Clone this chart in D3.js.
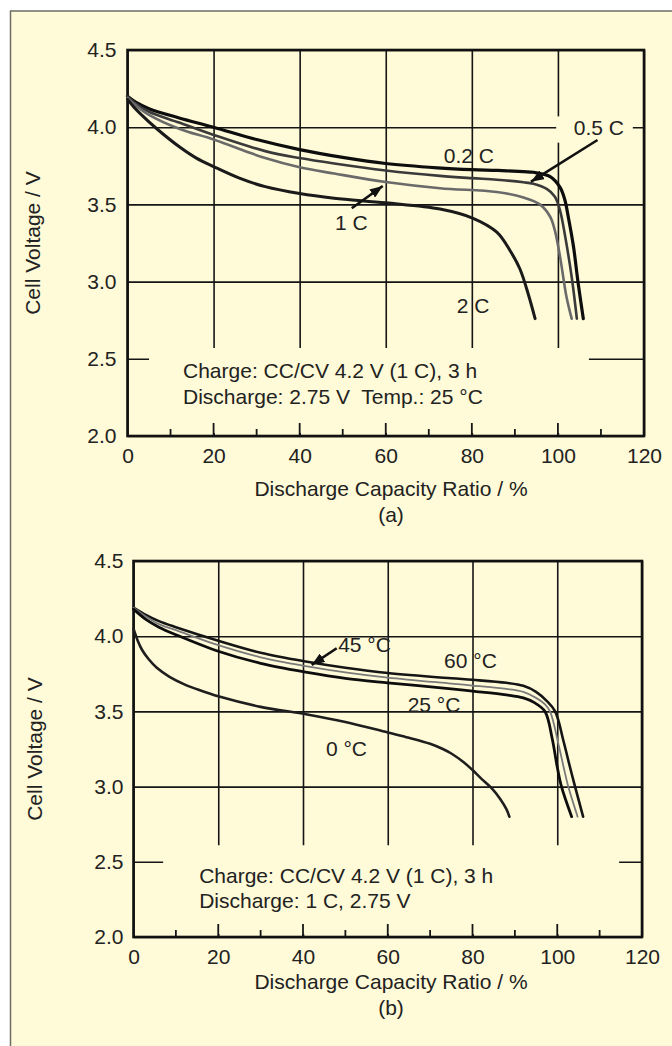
<!DOCTYPE html>
<html>
<head>
<meta charset="utf-8">
<script src="https://cdn.jsdelivr.net/npm/d3@7"></script>
<style>
body { margin: 0; background: #fff; }
text { font-family: "Liberation Sans", Arial, Helvetica, sans-serif; fill: #222; }
</style>
</head>
<body>
<svg id="chart" width="672" height="1046"></svg>
<script>
// axis ticks (shared by both panels)
var xTicks = [0, 20, 40, 60, 80, 100, 120];
var yTicks = [2.0, 2.5, 3.0, 3.5, 4.0, 4.5];
var bottomTicks = [10, 20, 30, 40, 50, 60, 70, 80, 90, 100, 110];

// (a) discharge rate, [capacity %, voltage V]
var rate02C = [[0,4.20],[2,4.16],[5,4.12],[12,4.06],[20,4.00],[30,3.92],[40,3.855],[50,3.805],[60,3.765],[72,3.737],[80,3.725],[86,3.72],[92,3.712],[94.3,3.708],[98.2,3.68],[100.5,3.61],[101.6,3.53],[102.4,3.42],[103.6,3.23],[104.7,2.99],[105.9,2.76]];
var rate05C = [[0,4.20],[2,4.15],[5,4.10],[12,4.03],[20,3.95],[32,3.845],[40,3.80],[48,3.765],[60,3.72],[72.6,3.685],[80,3.67],[85.8,3.66],[92,3.643],[94.3,3.633],[97.4,3.60],[99.3,3.55],[100.5,3.46],[101.7,3.29],[103.2,3.03],[104.4,2.76]];
var rate1C = [[0,4.19],[2,4.14],[5,4.08],[12,3.99],[20,3.92],[32,3.80],[40,3.74],[48,3.70],[60,3.645],[72.6,3.605],[85.8,3.58],[92,3.545],[95.8,3.50],[98.2,3.42],[99.3,3.33],[100.5,3.16],[102,2.90],[103.2,2.76]];
var rate2C = [[0,4.18],[1.5,4.13],[2.9,4.09],[6.8,3.99],[12.2,3.87],[16,3.80],[20,3.745],[26,3.67],[32,3.615],[40,3.57],[48,3.54],[60,3.51],[72.6,3.47],[80.3,3.41],[85.8,3.32],[88.9,3.20],[91.2,3.08],[93.1,2.92],[94.7,2.76]];

// (b) temperature, [capacity %, voltage V]
var temp60 = [[0,4.19],[3,4.14],[6,4.10],[10,4.06],[20,3.97],[30,3.89],[41,3.83],[50,3.79],[60,3.755],[75,3.72],[80,3.71],[88,3.69],[92,3.67],[95,3.63],[97.5,3.57],[99.5,3.50],[101.5,3.30],[103,3.13],[104.2,3.00],[106.1,2.80]];
var temp45 = [[0,4.19],[3,4.13],[6,4.08],[10,4.04],[20,3.94],[30,3.86],[41,3.80],[50,3.76],[60,3.725],[75,3.685],[80,3.672],[88,3.65],[92,3.63],[95,3.59],[97,3.55],[98.3,3.50],[100.3,3.28],[101.5,3.13],[102.6,3.00],[104.8,2.80]];
var temp25 = [[0,4.18],[3,4.11],[6,4.06],[10,4.01],[20,3.90],[30,3.82],[41,3.76],[50,3.72],[60,3.69],[75,3.65],[80,3.635],[88,3.61],[92,3.59],[94.5,3.56],[97.1,3.50],[98.8,3.32],[100,3.13],[101,3.00],[103.4,2.80]];
var temp0 = [[0,4.05],[1,3.97],[2,3.91],[3.5,3.85],[5.5,3.79],[8.5,3.73],[12,3.68],[15.7,3.64],[20,3.60],[30,3.53],[41,3.48],[50,3.43],[60,3.36],[65,3.325],[70,3.285],[73,3.25],[75,3.22],[78,3.16],[80,3.11],[82,3.055],[84.5,2.99],[86.5,2.92],[88,2.85],[88.7,2.80]];

var conditionsA = ["Charge: CC/CV 4.2 V (1 C), 3 h", "Discharge: 2.75 V\u00a0 Temp.: 25 \u00b0C"];
var conditionsB = ["Charge: CC/CV 4.2 V (1 C), 3 h", "Discharge: 1 C, 2.75 V"];

var svg = d3.select("#chart");
var cream = "#fffad7";

svg.append("rect")
	.attr("x", 10.5).attr("y", 11)
	.attr("width", 700).attr("height", 1100)
	.attr("fill", cream)
	.attr("stroke", "#6e6e66")
	.attr("stroke-width", 1.5);

svg.append("defs").append("marker")
	.attr("id", "arrowhead")
	.attr("viewBox", "0 -5 13 10")
	.attr("refX", 13).attr("refY", 0)
	.attr("markerWidth", 13).attr("markerHeight", 10)
	.attr("markerUnits", "userSpaceOnUse")
	.attr("orient", "auto")
	.append("path")
	.attr("d", "M0,-5L13,0L0,5Z")
	.attr("fill", "#111");

function drawPanel(p) {
	var x = d3.scaleLinear().domain([0, 120]).range([p.left, p.right]);
	var y = d3.scaleLinear().domain([2, 4.5]).range([p.bottom, p.top]);
	var w = p.right - p.left, h = p.bottom - p.top;
	var g = svg.append("g");

	// grid lines + tick labels
	var gx = g.append("g")
		.attr("transform", "translate(0," + p.bottom + ")")
		.call(d3.axisBottom(x).tickValues(xTicks).tickSize(-h).tickPadding(12).tickFormat(d3.format("d")));
	var gy = g.append("g")
		.attr("transform", "translate(" + p.left + ",0)")
		.call(d3.axisLeft(y).tickValues(yTicks).tickSize(-w).tickPadding(p.ypad).tickFormat(d3.format(".1f")));
	[gx, gy].forEach(function (a) {
		a.select(".domain").remove();
		a.attr("font-size", 21).attr("font-family", null);
		a.selectAll("line").attr("stroke", "#151515").attr("stroke-width", 1.6);
		a.selectAll("text").attr("fill", "#222");
	});

	// cream box behind the test conditions
	g.append("rect")
		.attr("x", x(p.box[0])).attr("y", y(p.box[3]))
		.attr("width", x(p.box[1]) - x(p.box[0]))
		.attr("height", y(p.box[2]) - y(p.box[3]))
		.attr("fill", cream);

	g.append("g").selectAll("line")
		.data(bottomTicks)
		.enter().append("line")
		.attr("x1", function (d) { return x(d); })
		.attr("x2", function (d) { return x(d); })
		.attr("y1", p.bottom)
		.attr("y2", function (d) { return p.bottom - (d % 20 === 0 ? 13 : 7); })
		.attr("stroke", "#151515")
		.attr("stroke-width", 1.8);

	p.conditions.forEach(function (t, i) {
		g.append("text")
			.attr("x", x(p.condAt[0]))
			.attr("y", y(p.condAt[1]) + i * p.condGap)
			.attr("font-size", 21)
			.text(t);
	});

	// label backgrounds
	(p.labelBoxes || []).forEach(function (b) {
		g.append("rect")
			.attr("x", x(b[0])).attr("y", y(b[3]))
			.attr("width", x(b[1]) - x(b[0]))
			.attr("height", y(b[2]) - y(b[3]))
			.attr("fill", cream);
	});

	g.append("rect")
		.attr("x", p.left).attr("y", p.top)
		.attr("width", w).attr("height", h)
		.attr("fill", "none")
		.attr("stroke", "#111")
		.attr("stroke-width", 2.6);

	var line = d3.line()
		.x(function (d) { return x(d[0]); })
		.y(function (d) { return y(d[1]); })
		.curve(d3.curveCatmullRom.alpha(0.5));

	g.append("g").selectAll("path")
		.data(p.series)
		.enter().append("path")
		.attr("d", function (s) { return line(s.values); })
		.attr("fill", "none")
		.attr("stroke", function (s) { return s.color; })
		.attr("stroke-width", function (s) { return s.width; })
		.attr("stroke-linecap", "round")
		.attr("stroke-linejoin", "round");

	p.arrows.forEach(function (a) {
		g.append("line")
			.attr("x1", x(a[0])).attr("y1", y(a[1]))
			.attr("x2", x(a[2])).attr("y2", y(a[3]))
			.attr("stroke", "#111")
			.attr("stroke-width", 2.6)
			.attr("marker-end", "url(#arrowhead)");
	});

	g.append("g").selectAll("text")
		.data(p.series)
		.enter().append("text")
		.attr("x", function (s) { return x(s.labelAt[0]); })
		.attr("y", function (s) { return y(s.labelAt[1]); })
		.attr("font-size", 21)
		.text(function (s) { return s.name; });

	g.append("text")
		.attr("transform", "translate(" + p.ytitleX + "," + (p.top + h / 2) + ") rotate(-90)")
		.attr("text-anchor", "middle")
		.attr("font-size", 21)
		.text("Cell Voltage / V");

	g.append("text")
		.attr("x", 391).attr("y", p.bottom + p.xtitleGap)
		.attr("text-anchor", "middle")
		.attr("font-size", 21)
		.text("Discharge Capacity Ratio / %");

	g.append("text")
		.attr("x", 391).attr("y", p.bottom + p.xtitleGap + 26)
		.attr("text-anchor", "middle")
		.attr("font-size", 21)
		.text(p.tag);
}

drawPanel({
	left: 127.5, right: 644, top: 50, bottom: 436, ypad: 11,
	ytitleX: 40, xtitleGap: 60, tag: "(a)",
	box: [5.0, 107.2, 2.02, 2.57],
	conditions: conditionsA, condAt: [12.9, 2.374], condGap: 26,
	labelBoxes: [[99.6, 117.4, 3.90, 4.07]],
	series: [
		{ name: "0.2 C", values: rate02C, color: "#0d0d0d", width: 3.2, labelAt: [73.5, 3.766] },
		{ name: "0.5 C", values: rate05C, color: "#3a3a3a", width: 2.6, labelAt: [103.7, 3.95] },
		{ name: "1 C", values: rate1C, color: "#6a6a6a", width: 2.6, labelAt: [48.2, 3.334] },
		{ name: "2 C", values: rate2C, color: "#1a1a1a", width: 3.0, labelAt: [76.5, 2.795] }
	],
	arrows: [[109.2, 3.917, 93.75, 3.647], [52.1, 3.475, 59.3, 3.619]]
});

drawPanel({
	left: 133.5, right: 642, top: 561, bottom: 937, ypad: 10,
	ytitleX: 42, xtitleGap: 52, tag: "(b)",
	box: [7.0, 114.6, 2.02, 2.61],
	conditions: conditionsB, condAt: [15.5, 2.357], condGap: 24.5,
	series: [
		{ name: "60 \u00b0C", values: temp60, color: "#151515", width: 2.6, labelAt: [73.3, 3.787] },
		{ name: "45 \u00b0C", values: temp45, color: "#7a7a7a", width: 1.8, labelAt: [48.3, 3.897] },
		{ name: "25 \u00b0C", values: temp25, color: "#0d0d0d", width: 2.8, labelAt: [64.7, 3.498] },
		{ name: "0 \u00b0C", values: temp0, color: "#1e1e1e", width: 2.6, labelAt: [45.4, 3.205] }
	],
	arrows: [[47.95, 3.92, 42.05, 3.809]]
});
</script>
</body>
</html>
